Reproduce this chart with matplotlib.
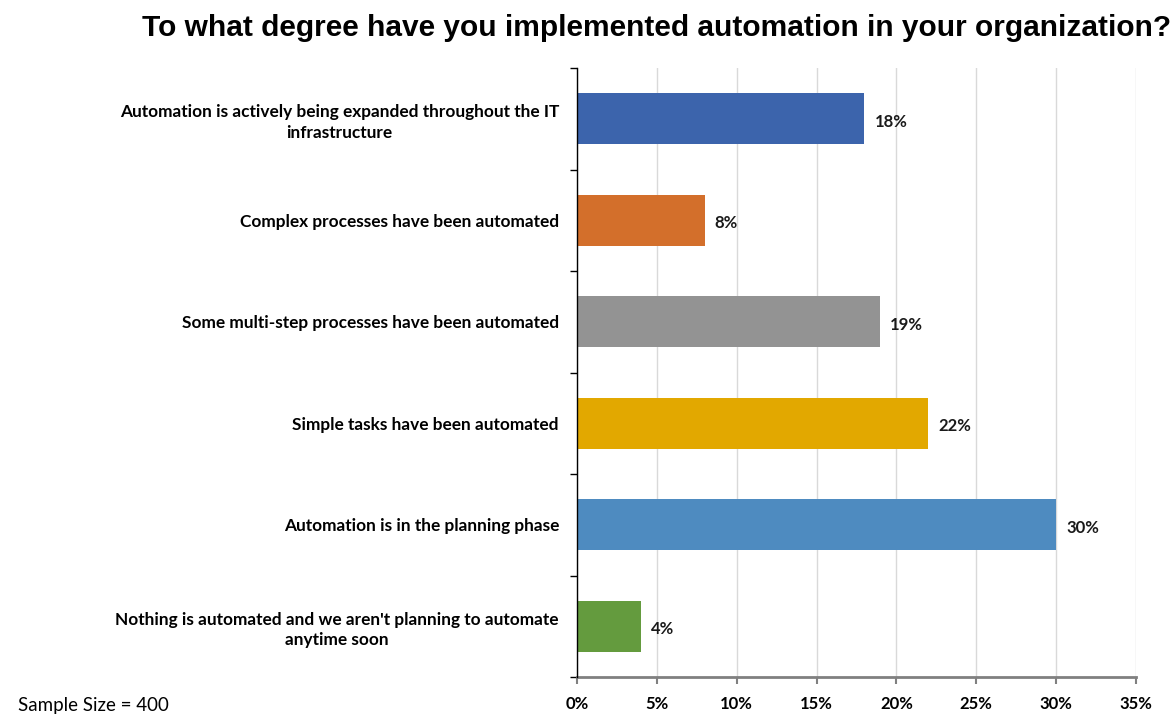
import matplotlib
matplotlib.use("Agg")
import matplotlib.pyplot as plt
from matplotlib.ticker import FixedLocator, PercentFormatter

categories = [
    "Automation is actively being expanded throughout the IT\ninfrastructure",
    "Complex processes have been automated",
    "Some multi-step processes have been automated",
    "Simple tasks have been automated",
    "Automation is in the planning phase",
    "Nothing is automated and we aren't planning to automate\nanytime soon",
]
values = [18, 8, 19, 22, 30, 4]
colors = ["#3C64AC", "#D36F2B", "#939393", "#E2A800", "#4E8BC0", "#649B3E"]
xticks = [0, 5, 10, 15, 20, 25, 30, 35]
title = "To what degree have you implemented automation in your organization?"
note = "Sample Size = 400"

fig = plt.figure(figsize=(11.7, 7.15), dpi=100)
ax = fig.add_axes([0.4932, 0.0531, 0.9709 - 0.4932, 0.9049 - 0.0531])

n = len(categories)
ypos = list(range(n))
ax.barh(ypos, values, height=0.5, color=colors, zorder=3)
ax.set_ylim(n - 0.5, -0.5)
ax.set_xlim(0, 35)

for y, v in zip(ypos, values):
    ax.text(v + 0.62, y + 0.03, f"{v}%", va="center", ha="left", fontsize=12,
            fontweight="bold", family="Lato", color="#1a1a1a")

ax.set_xticks(xticks)
ax.xaxis.set_major_formatter(PercentFormatter(decimals=0))
for lab in ax.get_xticklabels():
    lab.set_fontweight("bold")
    lab.set_family("Lato")
    lab.set_fontsize(12)
ax.tick_params(axis="x", direction="out", length=5, width=1.5, color="#808080", pad=9)
ax.grid(axis="x", color="#D9D9D9", linewidth=1, zorder=0)

ax.set_yticks(ypos)
ax.set_yticklabels(categories, fontsize=12.4, fontweight="bold", family="Lato",
                   multialignment="center", linespacing=1.35)
ax.tick_params(axis="y", which="major", length=0, pad=13)
ax.yaxis.set_minor_locator(FixedLocator([i - 0.5 for i in range(n + 1)]))
ax.tick_params(axis="y", which="minor", direction="out", length=5, width=1, color="black")

for s in ["top", "right"]:
    ax.spines[s].set_visible(False)
ax.spines["left"].set_color("black")
ax.spines["left"].set_linewidth(1)
ax.spines["bottom"].set_color("#808080")
ax.spines["bottom"].set_linewidth(2)
ax.spines["left"].set_zorder(4)

fig.text(657 / 1170, 1 - 28 / 715, title, ha="center", va="center", fontsize=21.5,
         fontweight="bold", family="Liberation Sans")
fig.text(18 / 1170, 1 - 705 / 715, note, ha="left", va="center", fontsize=13.5, family="Lato")

fig.savefig("out.png", dpi=100)
